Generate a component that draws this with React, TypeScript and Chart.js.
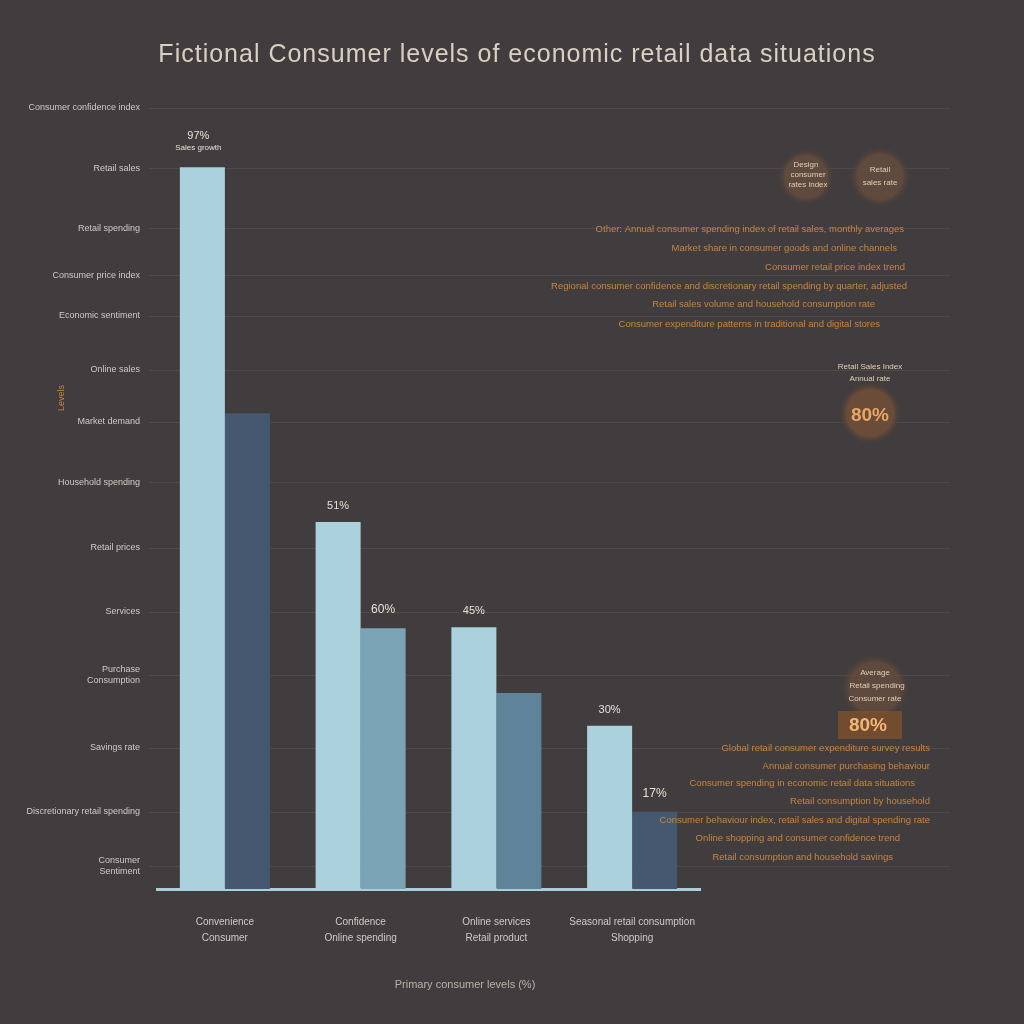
import React, { useEffect, useRef } from "react";
import { Chart, registerables } from "chart.js";

Chart.register(...registerables);

// ---- data ----
const titleText = "Fictional Consumer levels of economic retail data situations";
const categories: string[][] = [
  ["Convenience", "Consumer"],
  ["Confidence", "Online spending"],
  ["Online services", "Retail product"],
  ["Seasonal retail consumption", "Shopping"],
];
const currentLevels = [92.4, 47.0, 33.5, 20.9];
const previousLevels = [60.9, 33.4, 25.1, 9.9];
const currentLabels = ["97%", "51%", "45%", "30%"];
const currentSubLabels = ["Sales growth", "", "", ""];
const previousLabels = ["", "60%", "", "17%"];
const previousColors = ["#46586f", "#7ba4b6", "#5f8499", "#46586f"];
const yTickValues = [100, 92.3, 84.6, 78.6, 73.4, 66.5, 59.8, 52.1, 43.7, 35.5, 27.4, 18.1, 9.9, 2.9];
const yTickLabels: (string | string[])[] = [
  "Consumer confidence index",
  "Retail sales",
  "Retail spending",
  "Consumer price index",
  "Economic sentiment",
  "Online sales",
  "Market demand",
  "Household spending",
  "Retail prices",
  "Services",
  ["Purchase", "Consumption"],
  "Savings rate",
  "Discretionary retail spending",
  ["Consumer", "Sentiment"],
];
const yAxisTitle = "Levels";
const xAxisTitle = "Primary consumer levels (%)";

// ---- decorative annotations (right side) ----
const topNotes = [
  "Other: Annual consumer spending index of retail sales, monthly averages",
  "Market share in consumer goods and online channels",
  "Consumer retail price index trend",
  "Regional consumer confidence and discretionary retail spending by quarter, adjusted",
  "Retail sales volume and household consumption rate",
  "Consumer expenditure patterns in traditional and digital stores",
];
const bottomNotes = [
  "Global retail consumer expenditure survey results",
  "Annual consumer purchasing behaviour",
  "Consumer spending in economic retail data situations",
  "Retail consumption by household",
  "Consumer behaviour index, retail sales and digital spending rate",
  "Online shopping and consumer confidence trend",
  "Retail consumption and household savings",
];

const BG = "#413d3e";
const ORANGE = "#c8843f";

export default function App() {
  const ref = useRef<HTMLCanvasElement>(null);

  useEffect(() => {
    const canvas = ref.current!;
    const labelPlugin = {
      id: "decor",
      beforeDraw(chart: any) {
        const c = chart.ctx;
        c.save();
        c.fillStyle = BG;
        c.fillRect(0, 0, chart.width, chart.height);
        // title
        c.fillStyle = "#d8d0c2";
        c.font = "25px 'Liberation Sans'";
        c.textAlign = "center";
        c.textBaseline = "middle";
        try { (c as any).letterSpacing = "1px"; } catch (e) {}
        c.fillText(titleText, 517, 55);
        try { (c as any).letterSpacing = "0px"; } catch (e) {}
        c.restore();
      },
      beforeDatasetsDraw(chart: any) {
        const c = chart.ctx;
        const y = chart.scales.y;
        const area = chart.chartArea;
        c.save();
        c.strokeStyle = "rgba(255,255,255,0.07)";
        c.lineWidth = 1;
        yTickValues.forEach((v) => {
          const py = Math.round(y.getPixelForValue(v)) + 0.5;
          c.beginPath();
          c.moveTo(area.left - 8, py);
          c.lineTo(area.right + 250, py);
          c.stroke();
        });
        c.restore();
      },
      afterDatasetsDraw(chart: any) {
        const c = chart.ctx;
        c.save();
        c.textAlign = "center";
        c.textBaseline = "middle";
        c.fillStyle = "#e6e1d8";
        const m0 = chart.getDatasetMeta(0);
        const m1 = chart.getDatasetMeta(1);
        m0.data.forEach((el: any, i: number) => {
          if (currentSubLabels[i]) {
            c.font = "11px 'Liberation Sans'";
            c.fillText(currentLabels[i], el.x - 4, el.y - 31);
            c.font = "8px 'Liberation Sans'";
            c.fillText(currentSubLabels[i], el.x - 4, el.y - 20);
          } else if (currentLabels[i]) {
            c.font = "11px 'Liberation Sans'";
            c.fillText(currentLabels[i], el.x, el.y - 16);
          }
        });
        m1.data.forEach((el: any, i: number) => {
          if (previousLabels[i]) {
            c.font = "12px 'Liberation Sans'";
            c.fillText(previousLabels[i], el.x, el.y - 18);
          }
        });

        // x-axis title
        c.fillStyle = "#b8b2ac";
        c.font = "11px 'Liberation Sans'";
        c.fillText(xAxisTitle, 465, 985);

        // y-axis title (rotated)
        c.save();
        c.translate(62, 398);
        c.rotate(-Math.PI / 2);
        c.fillStyle = ORANGE;
        c.font = "9px 'Liberation Sans'";
        c.fillText(yAxisTitle, 0, 0);
        c.restore();

        // right-side notes
        const glow = (x: number, yy: number, r: number, col: string) => {
          const g = c.createRadialGradient(x, yy, 0, x, yy, r);
          g.addColorStop(0, col);
          g.addColorStop(0.75, col);
          g.addColorStop(1, "rgba(80,60,50,0)");
          c.fillStyle = g;
          c.beginPath();
          c.arc(x, yy, r, 0, Math.PI * 2);
          c.fill();
        };
        glow(806, 177, 28, "rgba(100,76,62,0.85)");
        glow(880, 177, 30, "rgba(100,76,62,0.85)");
        glow(870, 413, 31, "rgba(110,78,55,0.9)");
        glow(875, 688, 34, "rgba(100,76,62,0.8)");

        c.font = "8px 'Liberation Sans'";
        c.fillStyle = "#e2cfb4";
        c.fillText("Design", 806, 165);
        c.fillText("consumer", 808, 175);
        c.fillText("rates index", 808, 185);
        c.fillText("Retail", 880, 170);
        c.fillText("sales rate", 880, 183);
        c.fillText("Retail Sales Index", 870, 367);
        c.fillText("Annual rate", 870, 379);
        c.fillText("Average", 875, 673);
        c.fillText("Retail spending", 877, 686);
        c.fillText("Consumer rate", 875, 699);

        c.font = "bold 19px 'Liberation Sans'";
        c.fillStyle = "#e9a565";
        c.fillText("80%", 870, 416);
        c.fillStyle = "rgba(120,78,45,0.9)";
        c.fillRect(838, 711, 64, 28);
        c.fillStyle = "#f2b676";
        c.fillText("80%", 868, 726);

        c.font = "9.5px 'Liberation Sans'";
        c.fillStyle = ORANGE;
        c.textAlign = "right";
        const topY = [229, 248, 267, 286, 304, 324];
        const topR = [904, 897, 905, 907, 875, 880];
        topNotes.forEach((t, i) => c.fillText(t, topR[i], topY[i]));
        const botY = [748, 766, 783, 801, 820, 838, 857];
        const botR = [930, 930, 915, 930, 930, 900, 893];
        bottomNotes.forEach((t, i) => c.fillText(t, botR[i], botY[i]));
        c.restore();
      },
    };

    const chart = new Chart(canvas, {
      type: "bar",
      data: {
        labels: categories,
        datasets: [
          {
            label: "Current",
            data: currentLevels,
            backgroundColor: "#abd1dc",
            barPercentage: 1,
            categoryPercentage: 0.663,
          },
          {
            label: "Previous",
            data: previousLevels,
            backgroundColor: previousColors,
            barPercentage: 1,
            categoryPercentage: 0.663,
          },
        ],
      },
      options: {
        responsive: false,
        animation: false,
        layout: { padding: { left: 0, right: 324, top: 108, bottom: 0 } },
        plugins: {
          legend: { display: false },
          tooltip: { enabled: false },
          title: { display: false },
        },
        scales: {
          x: {
            grid: { display: false, drawTicks: false },
            border: { display: true, color: "#a9d0da", width: 3 },
            ticks: {
              color: "#cfcac6",
              font: { family: "'Liberation Sans'", size: 10, lineHeight: 1.6 },
              padding: 25,
              maxRotation: 0,
              autoSkip: false,
            },
            afterFit: (s: any) => {
              s.height = 135;
            },
          },
          y: {
            min: 0,
            max: 100,
            grid: { display: false, drawTicks: false },
            border: { display: false },
            afterBuildTicks: (s: any) => {
              s.ticks = yTickValues.map((v) => ({ value: v }));
            },
            ticks: {
              color: "#cfcac6",
              font: { family: "'Liberation Sans'", size: 9 },
              padding: 17,
              autoSkip: false,
              callback: (v: any) => {
                const i = yTickValues.indexOf(Number(v));
                return i >= 0 ? yTickLabels[i] : "";
              },
            },
            afterFit: (s: any) => {
              s.width = 157;
            },
          },
        },
      },
      plugins: [labelPlugin],
    } as any);
    return () => chart.destroy();
  }, []);

  return (
    <div style={{ position: "absolute", left: 0, top: 0, width: 1024, height: 1024, background: BG }}>
      <canvas ref={ref} width={1024} height={1024} style={{ display: "block", width: 1024, height: 1024 }} />
    </div>
  );
}
